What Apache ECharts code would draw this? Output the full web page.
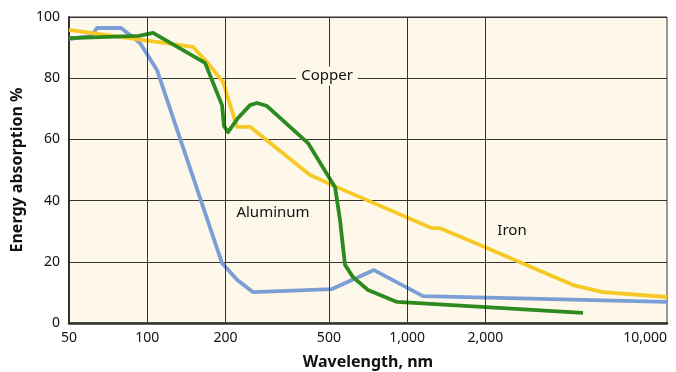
<!DOCTYPE html>
<html><head><meta charset="utf-8">
<script src="https://cdn.jsdelivr.net/npm/echarts@6/dist/echarts.min.js"></script>
<style>html,body{margin:0;padding:0;background:#fff}#c{width:676px;height:372px}</style>
</head><body><div id="c"></div>
<script>
// Tick values
const xTicks = [50, 100, 200, 500, 1000, 2000, 10000];
const yTicks = [0, 20, 40, 60, 80, 100];

// Aluminum (blue)
const aluminumX = [50, 60.8, 64.1, 79.3, 93.8, 109, 194, 221.5, 255, 514, 746, 1151, 10000];
const aluminumY = [92.8, 93.8, 96.4, 96.4, 91.5, 82.7, 19.6, 14.1, 10.1, 11.1, 17.3, 8.8, 6.9];

// Copper (green)
const copperX = [50, 93, 105.3, 166.9, 194, 197.4, 204.6, 223.5, 248.6, 264.5, 289, 415.6, 528, 551.7, 576.7, 619, 707, 914, 4750];
const copperY = [93.1, 93.8, 94.8, 85.0, 71.2, 64.4, 62.4, 67.0, 71.2, 71.9, 70.9, 58.8, 44.4, 33.7, 19.0, 15.0, 10.8, 6.9, 3.3];

// Iron (yellow)
const ironX = [50, 150, 169.8, 195.6, 221.5, 248.6, 423, 537, 1247, 1339, 1907, 4349, 5670, 10000];
const ironY = [95.8, 90.2, 85.3, 78.8, 64.1, 64.1, 48.4, 44.4, 31.0, 31.0, 25.5, 12.4, 10.1, 8.5];

const zip = (xs, ys) => xs.map((x, i) => [x, ys[i]]);

const FONT = '"Noto Sans", sans-serif';
const chart = echarts.init(document.getElementById('c'), null, {renderer: 'canvas'});

function lineSeries(name, xs, ys, color) {
  return {
    name, type: 'line', data: zip(xs, ys), symbol: 'none', smooth: false,
    lineStyle: {color, width: 3.8, join: 'round'}, z: 3, animation: false
  };
}

chart.setOption({
  animation: false,
  grid: {left: 69, right: 9, top: 17, bottom: 49, show: true, containLabel: false,
         outerBoundsMode: 'none',
         backgroundColor: '#FDF8EA', borderColor: '#333', borderWidth: 1},
  xAxis: {
    type: 'log', logBase: 10, min: 50, max: 10000,
    name: 'Wavelength, nm', nameLocation: 'middle', nameGap: 31,
    nameTextStyle: {fontFamily: FONT, fontSize: 16, fontWeight: 'bold', color: '#111'},
    axisLine: {show: true, lineStyle: {color: '#333', width: 2.5}},
    axisTick: {show: false, customValues: xTicks},
    axisLabel: {customValues: xTicks, fontFamily: FONT, fontSize: 14, color: '#111', margin: 8,
      hideOverlap: false, alignMaxLabel: 'right',
      formatter: v => Number(v).toLocaleString('en-US')},
    splitLine: {show: false}
  },
  yAxis: {
    type: 'value', min: 0, max: 100, interval: 20,
    name: 'Energy absorption %', nameLocation: 'middle', nameGap: 37,
    nameTextStyle: {fontFamily: FONT, fontSize: 16, fontWeight: 'bold', color: '#111'},
    axisLine: {show: true, lineStyle: {color: '#333', width: 2}},
    axisTick: {show: false},
    axisLabel: {fontFamily: FONT, fontSize: 14, color: '#111', margin: 9},
    splitLine: {show: true, lineStyle: {color: '#333', width: 1}}
  },
  series: [
    {type: 'line', data: [], z: 1, silent: true,
     markLine: {silent: true, symbol: ['none', 'none'], animation: false,
       label: {show: false},
       lineStyle: {color: '#333', width: 1, type: 'solid'},
       data: xTicks.slice(1, -1).map(v => ({xAxis: v}))}},
    lineSeries('Aluminum', aluminumX, aluminumY, '#7B9ED6'),
    lineSeries('Iron', ironX, ironY, '#F6C927'),
    lineSeries('Copper', copperX, copperY, '#2C8A1E')
  ],
  graphic: [
    {type: 'text', z: 50, x: 327, y: 76, style: {text: 'Copper', font: '15px ' + FONT, fill: '#111',
      align: 'center', verticalAlign: 'middle', backgroundColor: '#FDF8EA', padding: [2, 5]}},
    {type: 'text', z: 50, x: 273, y: 213, style: {text: 'Aluminum', font: '15px ' + FONT, fill: '#111',
      align: 'center', verticalAlign: 'middle', backgroundColor: '#FDF8EA', padding: [2, 5]}},
    {type: 'text', z: 50, x: 512, y: 231, style: {text: 'Iron', font: '15px ' + FONT, fill: '#111',
      align: 'center', verticalAlign: 'middle'}}
  ]
});
</script></body></html>
